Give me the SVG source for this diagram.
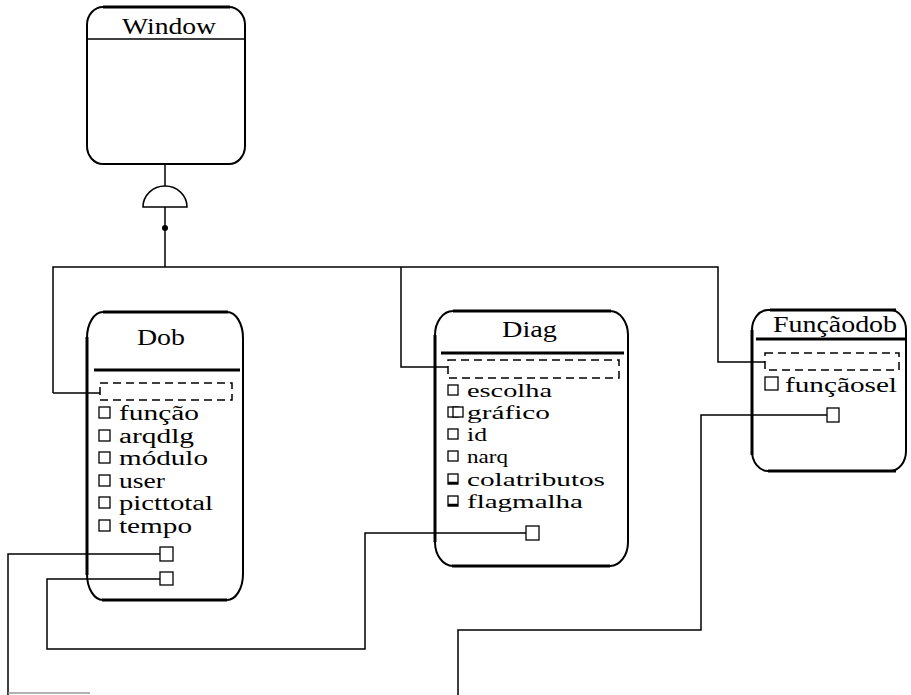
<svg xmlns="http://www.w3.org/2000/svg" width="911" height="695" viewBox="0 0 911 695">
<style>
.box{fill:#fff;stroke:#000;stroke-width:2}
.thick{stroke:#000;stroke-width:3;fill:none}
.thin{stroke:#000;stroke-width:1.5;fill:none}
.dash{fill:none;stroke:#000;stroke-width:1.5;stroke-dasharray:8 5}
.sq{fill:#fff;stroke:#000;stroke-width:1.3}
.t{font-family:"Liberation Serif","Times New Roman",serif;font-size:20px;fill:#000}
.t2{font-family:"Liberation Serif","Times New Roman",serif;font-size:19px;fill:#000}
.title{font-family:"Liberation Serif","Times New Roman",serif;font-size:24px;fill:#000}
.c{fill:none;stroke:#000;stroke-width:1.5}
</style>
<rect width="911" height="695" fill="#fff"/>

<g id="window">
  <rect class="box" x="87" y="7" width="158" height="157" rx="16" ry="18"/>
  <line class="thick" x1="103" y1="7" x2="230" y2="7"/>
  <line class="thin" x1="88" y1="39" x2="244" y2="39"/>
  <text class="title" x="122" y="34" textLength="94" lengthAdjust="spacingAndGlyphs">Window</text>
</g>

<g id="dob">
  <rect class="box" x="87" y="312" width="156" height="288" rx="16" ry="26"/>
  <line class="thick" x1="103" y1="312" x2="228" y2="312"/>
  <line class="thick" x1="102" y1="600" x2="227" y2="600"/>
  <line class="thick" x1="87" y1="337" x2="87" y2="575"/>
  <line class="thick" x1="94" y1="370" x2="240" y2="370"/>
  <text class="title" x="137" y="345" textLength="48" lengthAdjust="spacingAndGlyphs">Dob</text>
  <rect class="dash" x="100" y="383" width="132" height="17"/>
  <rect class="sq" x="99" y="407" width="11" height="11"/>
  <text class="t" x="119" y="420" textLength="80" lengthAdjust="spacingAndGlyphs">função</text>
  <rect class="sq" x="99" y="430" width="11" height="11"/>
  <text class="t" x="119" y="442.5" textLength="75" lengthAdjust="spacingAndGlyphs">arqdlg</text>
  <rect class="sq" x="99" y="452" width="11" height="11"/>
  <text class="t" x="119" y="465" textLength="89" lengthAdjust="spacingAndGlyphs">módulo</text>
  <rect class="sq" x="99" y="475" width="11" height="11"/>
  <text class="t" x="119" y="487.5" textLength="46" lengthAdjust="spacingAndGlyphs">user</text>
  <rect class="sq" x="99" y="497" width="11" height="11"/>
  <text class="t" x="119" y="510" textLength="94" lengthAdjust="spacingAndGlyphs">picttotal</text>
  <rect class="sq" x="99" y="520" width="11" height="11"/>
  <text class="t" x="119" y="532.5" textLength="73" lengthAdjust="spacingAndGlyphs">tempo</text>
</g>

<g id="diag">
  <rect class="box" x="435" y="311" width="193" height="255" rx="18" ry="24"/>
  <line class="thick" x1="453" y1="311" x2="611" y2="311"/>
  <line class="thick" x1="452" y1="566" x2="610" y2="566"/>
  <line class="thick" x1="435" y1="335" x2="435" y2="542"/>
  <line class="thick" x1="441" y1="353" x2="624" y2="353"/>
  <text class="title" x="502" y="337" textLength="55" lengthAdjust="spacingAndGlyphs">Diag</text>
  <rect class="dash" x="448" y="360" width="171" height="18"/>
  <rect class="sq" x="448" y="385" width="10" height="10"/>
  <text class="t2" x="467" y="397" textLength="85" lengthAdjust="spacingAndGlyphs">escolha</text>
  <rect class="sq" x="448" y="407" width="10" height="10"/>
  <rect class="sq" x="453" y="407" width="10" height="10"/>
  <text class="t2" x="467" y="419" textLength="83" lengthAdjust="spacingAndGlyphs">gráfico</text>
  <rect class="sq" x="448" y="429" width="10" height="10"/>
  <text class="t2" x="467" y="441" textLength="20" lengthAdjust="spacingAndGlyphs">id</text>
  <rect class="sq" x="448" y="451" width="10" height="10"/>
  <text class="t2" x="467" y="463" textLength="41" lengthAdjust="spacingAndGlyphs">narq</text>
  <rect class="sq" x="448" y="474" width="10" height="10"/>
  <line x1="448" y1="483" x2="458" y2="483" stroke="#000" stroke-width="2.5"/>
  <text class="t2" x="467" y="486" textLength="138" lengthAdjust="spacingAndGlyphs">colatributos</text>
  <rect class="sq" x="448" y="496" width="10" height="10"/>
  <line x1="448" y1="505" x2="458" y2="505" stroke="#000" stroke-width="2.5"/>
  <text class="t2" x="467" y="508" textLength="116" lengthAdjust="spacingAndGlyphs">flagmalha</text>
</g>

<g id="funcaodob">
  <rect class="box" x="752" y="310" width="154" height="161" rx="16" ry="20"/>
  <line class="thick" x1="770" y1="310" x2="896" y2="310"/>
  <line class="thick" x1="768" y1="471" x2="896" y2="471"/>
  <line class="thick" x1="752" y1="330" x2="752" y2="455"/>
  <line class="thick" x1="756" y1="339" x2="905" y2="339"/>
  <text class="title" x="773" y="332" textLength="124" lengthAdjust="spacingAndGlyphs">Funçãodob</text>
  <rect class="dash" x="765" y="353" width="134" height="17"/>
  <rect class="sq" x="765" y="377" width="13" height="13"/>
  <text class="t" x="785" y="392" textLength="112" lengthAdjust="spacingAndGlyphs">funçãosel</text>
</g>

<g id="connectors">
  <line class="c" x1="165" y1="164" x2="165" y2="186"/>
  <path d="M143 207 A22 21 0 0 1 187 207 Z" fill="#fff" stroke="#000" stroke-width="1.5"/>
  <line class="c" x1="165" y1="207" x2="165" y2="267"/>
  <circle cx="165" cy="228" r="3"/>
  <polyline class="c" points="53,393 53,267 718,267 718,362 765,362"/>
  <polyline class="c" points="401,267 401,367 448,367"/>
  <polyline class="c" points="100,393 53,393"/>
  <polyline class="c" points="160,554 8,554 8,695"/>
  <polyline class="c" points="160,579 47,579 47,649 365,649 365,533 526,533"/>
  <polyline class="c" points="827,415 701,415 701,630 458,630 458,695"/>
  <line x1="8" y1="693" x2="90" y2="693" stroke="#999" stroke-width="1.5"/>
  <rect class="sq" x="160" y="547" width="13" height="14"/>
  <rect class="sq" x="160" y="572" width="13" height="13"/>
  <rect class="sq" x="526" y="526" width="13" height="14"/>
  <rect class="sq" x="827" y="408" width="12" height="14"/>
</g>
</svg>
